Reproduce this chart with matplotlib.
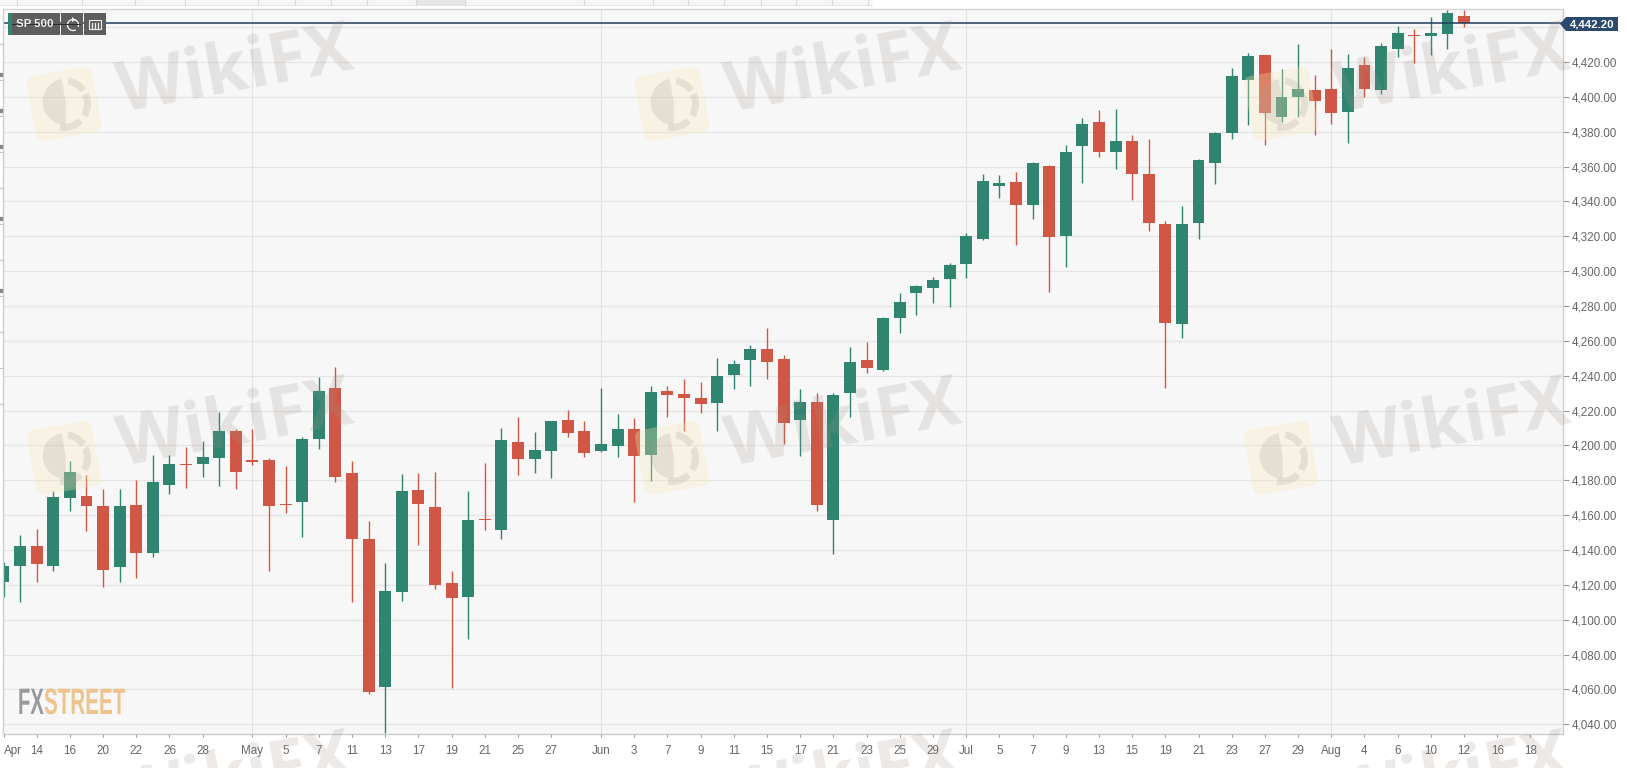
import numpy as np
import matplotlib
matplotlib.use("Agg")
import matplotlib.pyplot as plt
from matplotlib.patches import FancyBboxPatch, Rectangle, Polygon, Wedge, Arc
from matplotlib.patheffects import AbstractPathEffect
from matplotlib.lines import Line2D
from matplotlib.transforms import Affine2D

W, H = 1627, 768

# daily candles
opens = [4121.8, 4131.0, 4142.1, 4131.0, 4170.0, 4171.2, 4165.4, 4130.1, 4165.6, 4138.1,
         4177.1, 4189.5, 4189.1, 4193.0, 4208.4, 4191.0, 4191.6, 4166.2, 4167.5, 4203.7,
         4233.1, 4184.0, 4146.3, 4061.4, 4116.1, 4174.2, 4164.9, 4121.3, 4113.2, 4158.0,
         4151.3, 4202.2, 4192.0, 4197.0, 4214.4, 4208.1, 4197.0, 4199.5, 4209.6, 4194.7,
         4231.2, 4229.3, 4227.2, 4224.6, 4240.6, 4249.0, 4255.3, 4249.8, 4214.8, 4224.9,
         4157.4, 4229.9, 4249.0, 4243.1, 4272.9, 4287.5, 4290.1, 4295.4, 4304.2, 4318.5,
         4349.1, 4351.2, 4337.7, 4360.6, 4319.9, 4371.9, 4385.7, 4368.3, 4374.6, 4356.0,
         4327.0, 4269.6, 4327.5, 4361.8, 4379.1, 4409.9, 4423.8, 4388.5, 4400.1, 4403.7,
         4404.3, 4391.5, 4418.3, 4403.9, 4427.3, 4435.5, 4435.1, 4436.3, 4446.2]
highs = [4132.9, 4148.4, 4151.9, 4174.0, 4191.2, 4182.8, 4175.2, 4174.8, 4180.0, 4194.3,
         4194.3, 4199.3, 4202.3, 4219.0, 4209.2, 4209.6, 4192.6, 4188.0, 4204.6, 4239.0,
         4244.8, 4191.2, 4156.4, 4132.3, 4183.4, 4184.0, 4184.5, 4127.8, 4173.6, 4189.9,
         4210.0, 4216.3, 4207.5, 4214.2, 4220.3, 4214.0, 4233.0, 4218.1, 4215.8, 4234.1,
         4233.9, 4238.1, 4236.4, 4250.2, 4249.2, 4257.6, 4267.4, 4251.7, 4232.4, 4230.1,
         4230.1, 4256.5, 4259.4, 4273.7, 4287.5, 4292.0, 4296.5, 4304.4, 4322.0, 4355.6,
         4355.3, 4356.8, 4362.7, 4361.0, 4372.3, 4388.0, 4392.7, 4393.1, 4378.0, 4375.7,
         4328.9, 4337.3, 4364.1, 4379.9, 4416.4, 4425.0, 4423.8, 4416.0, 4430.1, 4412.4,
         4427.3, 4424.4, 4422.7, 4430.7, 4440.5, 4438.7, 4445.6, 4449.6, 4449.6]
lows = [4112.8, 4110.0, 4121.5, 4127.8, 4162.2, 4150.7, 4118.6, 4121.5, 4123.7, 4135.8,
        4171.9, 4175.4, 4181.7, 4176.5, 4174.8, 4188.6, 4127.8, 4161.0, 4147.3, 4198.1,
        4178.8, 4110.0, 4057.2, 4034.8, 4110.6, 4142.7, 4117.6, 4060.6, 4088.8, 4151.3,
        4146.4, 4183.3, 4184.2, 4181.3, 4204.9, 4193.4, 4196.5, 4193.4, 4167.6, 4179.6,
        4216.3, 4208.3, 4218.4, 4208.3, 4232.4, 4233.9, 4238.1, 4200.7, 4193.8, 4162.4,
        4137.7, 4216.3, 4241.4, 4242.5, 4264.5, 4274.8, 4281.7, 4279.5, 4296.0, 4317.8,
        4342.1, 4315.1, 4330.0, 4288.1, 4302.5, 4350.7, 4365.4, 4358.7, 4340.7, 4322.9,
        4233.1, 4261.6, 4318.5, 4349.9, 4375.6, 4383.7, 4372.2, 4385.8, 4388.3, 4378.1,
        4384.6, 4373.3, 4399.9, 4401.5, 4423.1, 4419.2, 4424.0, 4427.6, 4439.9]
closes = [4131.0, 4142.5, 4131.8, 4170.4, 4184.7, 4165.4, 4128.3, 4165.2, 4138.3, 4178.8,
          4189.5, 4188.8, 4193.5, 4208.1, 4184.9, 4190.7, 4165.2, 4165.6, 4203.7, 4231.0,
          4181.9, 4146.5, 4058.4, 4116.3, 4173.8, 4166.6, 4119.9, 4112.5, 4157.0, 4157.2,
          4202.9, 4192.2, 4197.2, 4214.2, 4207.2, 4195.9, 4201.0, 4209.6, 4194.2, 4230.5,
          4229.0, 4227.0, 4223.8, 4240.0, 4246.7, 4255.5, 4247.9, 4212.9, 4224.7, 4165.9,
          4228.8, 4247.9, 4244.6, 4273.1, 4282.1, 4291.7, 4294.7, 4303.4, 4319.9, 4352.0,
          4350.7, 4338.1, 4361.8, 4319.7, 4368.5, 4384.7, 4368.6, 4374.6, 4356.0, 4327.9,
          4270.2, 4327.2, 4363.9, 4379.5, 4411.8, 4423.4, 4390.9, 4400.1, 4404.3, 4397.6,
          4390.9, 4416.7, 4404.5, 4429.0, 4436.6, 4434.7, 4436.4, 4448.1, 4442.2]

tick_pos = [0, 2, 4, 6, 8, 10, 12, 15, 17, 19, 21, 23, 25, 27, 29, 31, 33, 36, 38, 40, 42, 44, 46,
            48, 50, 52, 54, 56, 58, 60, 62, 64, 66, 68, 70, 72, 74, 76, 78, 80, 82, 84, 86, 88, 90, 92]
tick_labels = ['Apr', '14', '16', '20', '22', '26', '28', 'May', '5', '7', '11', '13', '17', '19', '21',
               '25', '27', 'Jun', '3', '7', '9', '11', '15', '17', '21', '23', '25', '29', 'Jul', '5',
               '7', '9', '13', '15', '19', '21', '23', '27', '29', 'Aug', '4', '6', '10', '12', '16', '18']
month_pos = [15, 36, 58, 80]
price_ticks = list(range(4040, 4421, 20))
last_price = 4442.2

GREEN = '#2f8570'
RED = '#d05745'
NAVY = '#1f3d5e'


class Squeeze(AbstractPathEffect):
    # the logo font is much narrower than anything installed
    def __init__(self, x0, factor):
        super().__init__()
        self.x0 = x0
        self.factor = factor

    def draw_path(self, renderer, gc, tpath, affine, rgbFace=None):
        sq = Affine2D().translate(-self.x0, 0).scale(self.factor, 1).translate(self.x0, 0)
        renderer.draw_path(gc, tpath, affine + sq, rgbFace)


def px_box(x0, y0, x1, y1):
    # pixel box measured from the top left -> figure fractions
    return [x0 / W, 1 - y1 / H, (x1 - x0) / W, (y1 - y0) / H]


plt.rcParams['font.family'] = ['Liberation Sans', 'DejaVu Sans']

fig = plt.figure(figsize=(W / 100, H / 100), dpi=100, facecolor='white')
ax = fig.add_axes(px_box(3.5, 8.5, 1563, 734), facecolor='#f7f7f7')
ax.set_xlim(0, 93.96)
ax.set_ylim(4034.4, 4450.7)

ax.grid(False)
for p in price_ticks + [4440]:
    ax.axhline(p, color='#e4e4e4', lw=0.9, zorder=1)
for m in month_pos:
    ax.axvline(m, color='#e3e3e3', lw=0.8, zorder=1)

xs = np.arange(len(opens))
for i in xs:
    col = GREEN if closes[i] >= opens[i] else RED
    ax.plot([i, i], [lows[i], highs[i]], color=col, lw=1, solid_capstyle='butt', zorder=3)
    bottom = min(opens[i], closes[i])
    ax.bar(i, max(abs(closes[i] - opens[i]), 0.7), 0.72, bottom=bottom, color=col, zorder=4, lw=0)

ax.axhline(last_price, color=NAVY, lw=1.1, zorder=6)

for side in ['top', 'left']:
    ax.spines[side].set_visible(False)
for side in ['right', 'bottom']:
    ax.spines[side].set_color('#cccccc')
    ax.spines[side].set_linewidth(1)

ax.yaxis.tick_right()
ax.set_yticks(price_ticks)
ax.set_yticklabels([f'{p:,.2f}' for p in price_ticks])
ax.set_xticks(tick_pos)
ax.set_xticklabels(tick_labels)
ax.tick_params(axis='y', length=4.5, width=0.8, color='#999999', labelcolor='#666666', labelsize=8.4, pad=2)
ax.tick_params(axis='x', length=2, width=0.8, color='#999999', labelcolor='#666666', labelsize=8.4, pad=6)
for lab in ax.get_xticklabels():
    lab.set_ha('center')
ax.get_xticklabels()[0].set_ha('left')

# overlay in plain pixel coordinates for the decorations
ov = fig.add_axes([0, 0, 1, 1], facecolor='none', zorder=10)
ov.set_xlim(0, W)
ov.set_ylim(H, 0)
ov.axis('off')

# chrome at the top and the clipped left axis
ov.add_line(Line2D([3.5, 1563], [8.5, 8.5], color='#d6d6d6', lw=1))
ov.add_line(Line2D([3.5, 3.5], [8.5, 734], color='#cfcfd2', lw=1))
ov.add_patch(Rectangle((0, 0), 872, 5, fc='#f6f6f6', ec='none'))
ov.add_patch(Rectangle((416, 0), 49, 5, fc='#e6e6e6', ec='none'))
ov.add_line(Line2D([0, 872], [5, 5], color='#e8e8e8', lw=0.8))
for x in [17, 82, 135, 185, 258, 295, 331, 367, 416, 465, 584, 653, 688, 724, 761, 796, 832, 868]:
    ov.add_line(Line2D([x, x], [0, 5], color='#d8d8d8', lw=0.8))
for y in range(44, 405, 36):
    ov.add_line(Line2D([0, 3.5], [y, y], color='#c8c8cc', lw=0.8))
for y in [75, 111, 147, 219, 291]:
    ov.add_line(Line2D([0, 1], [y, y], color='#888888', lw=3))

# toolbar
ov.add_patch(Rectangle((8, 13), 52, 22, fc='#5e5e5e', ec='none'))
ov.add_patch(Rectangle((8, 13), 4, 22, fc=GREEN, ec='none'))
ov.add_patch(Rectangle((61, 13), 22, 22, fc='#5e5e5e', ec='none'))
ov.add_patch(Rectangle((84, 13), 22, 22, fc='#5e5e5e', ec='none'))
ov.add_line(Line2D([12, 80], [23.5, 23.5], color='#2c2c2c', lw=0.7))
ov.text(35, 24.3, 'SP 500', color='#f2f2f2', fontsize=8.2, fontweight='bold', ha='center', va='center')
ov.add_patch(Arc((73, 25), 11, 11, theta1=-300, theta2=20, color='#eeeeee', lw=1))
ov.add_patch(Polygon([[72, 17], [76, 20], [72, 22]], fc='#eeeeee', ec='none'))
ov.add_patch(Rectangle((89.5, 20), 11.5, 9, fc='none', ec='#eeeeee', lw=0.8))
for x in [92, 95, 98]:
    ov.add_line(Line2D([x, x], [23, 29], color='#eeeeee', lw=0.9))

# last price tag
ov.add_patch(Polygon([[1560, 24], [1566, 17], [1618, 17], [1618, 31], [1566, 31]], fc='#2b4a6e', ec='none'))
ov.text(1592, 24.3, f'{last_price:,.2f}', color='white', fontsize=8.2, fontweight='bold', ha='center', va='center')

# FXStreet mark
ov.text(18, 714, 'FX', color='#9a9a9e', fontsize=26.5, fontweight='bold', va='baseline', ha='left',
        path_effects=[Squeeze(18, 0.55)])
ov.text(44, 714, 'STREET', color='#edc38e', fontsize=26.5, fontweight='bold', va='baseline', ha='left',
        path_effects=[Squeeze(44, 0.56)])


# WikiFX watermark, repeated over the whole picture
def watermark(dx, dy):
    cx, cy = 64 + dx, 104 + dy
    rot = Affine2D().rotate_deg_around(cx, cy, -10) + ov.transData
    ov.add_patch(FancyBboxPatch((cx - 33, cy - 33), 66, 66, boxstyle='round,pad=0,rounding_size=8',
                                fc='#f9e9b5', ec='none', alpha=0.3, transform=rot, zorder=8))
    for t1, t2 in [(-70, -25), (-15, 40), (55, 110)]:
        ov.add_patch(Wedge((cx, cy), 27, t1, t2, width=7, fc='#a89e9a', ec='none', alpha=0.22,
                           transform=rot, zorder=8))
    ov.add_patch(Wedge((cx + 2, cy - 2), 23, 100, 270, fc='#a89e9a', ec='none', alpha=0.22,
                       transform=rot, zorder=8))
    ov.text(235 + dx, 73 + dy, 'WikiFX', color='#9f9188', alpha=0.2, fontsize=50, fontweight='bold',
            rotation=10.5, rotation_mode='anchor', ha='center', va='center', family='Open Sans', zorder=9)


for dy in [0, 354, 708]:
    for dx in [0, 608, 1217]:
        watermark(dx, dy)

fig.savefig('out.png', dpi=100)
